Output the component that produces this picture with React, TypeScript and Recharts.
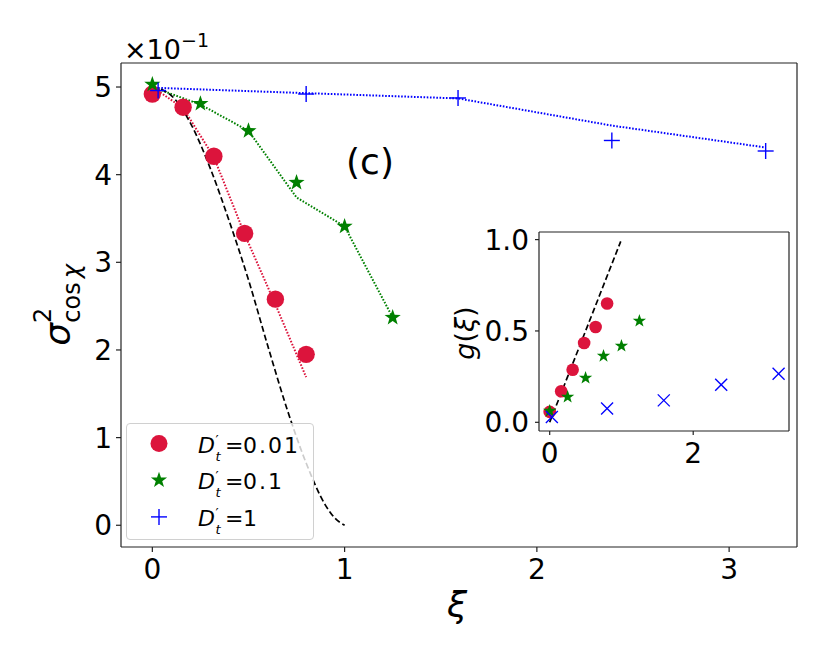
import React from 'react';
import { ComposedChart, Scatter, Line, XAxis, YAxis, CartesianGrid } from 'recharts';

document.body.style.margin = '0';

const RED = '#DC143C';
const GREEN = '#008000';
const BLUE = '#0000FF';
const FONT = 'DejaVu Sans';

// main panel: sigma^2 (x 10^-1) vs xi
const redX = [0, 0.16, 0.32, 0.48, 0.64, 0.8];
const redVar = [4.92, 4.77, 4.21, 3.33, 2.58, 1.95];
const redFit = [5.0, 4.76, 4.2, 3.32, 2.52, 1.69];

const greenX = [0, 0.25, 0.5, 0.75, 1.0, 1.25];
const greenVar = [5.03, 4.81, 4.5, 3.91, 3.41, 2.37];
const greenFit = [5.0, 4.8, 4.5, 3.74, 3.41, 2.37];

const blueX = [0.03, 0.8, 1.59, 2.39, 3.19];
const blueVar = [4.96, 4.92, 4.875, 4.39, 4.27];
const blueFit = [4.99, 4.93, 4.87, 4.56, 4.31];

const theoryX = [0, 0.1, 0.2, 0.3, 0.4, 0.5, 0.6, 0.7, 0.8, 0.9, 0.95, 1.0];
const theoryVar = [5.0, 4.9, 4.58, 4.08, 3.47, 2.8, 2.05, 1.33, 0.71, 0.23, 0.08, 0.0];

// inset: g(xi)
const redG = [0.057, 0.17, 0.288, 0.434, 0.522, 0.65];
const greenG = [0.062, 0.139, 0.243, 0.363, 0.418, 0.555];
const blueG = [0.029, 0.075, 0.12, 0.206, 0.266];
const gLineX = [0, 0.99];
const gLine = [0, 0.99];

const mainXTicks = [0, 1, 2, 3];
const mainYTicks = [0, 1, 2, 3, 4, 5];
const insetXTicks = [0, 2];
const insetYTicks = [0, 0.5, 1.0];

const legendLabels = ['0.01', '0.1', '1'];

const zip = (xs: number[], ys: number[]) => xs.map((x, i) => ({ x, y: ys[i] }));

const starPath = (cx: number, cy: number, R: number) => {
  const r = R * 0.4;
  let d = '';
  for (let i = 0; i < 10; i++) {
    const a = -Math.PI / 2 + (i * Math.PI) / 5;
    const rad = i % 2 === 0 ? R : r;
    d += (i === 0 ? 'M' : 'L') + (cx + rad * Math.cos(a)) + ',' + (cy + rad * Math.sin(a));
  }
  return d + 'Z';
};

const dotShape = (r: number) => (p: any) => <circle cx={p.cx} cy={p.cy} r={r} fill={RED} />;
const starShape = (R: number) => (p: any) => <path d={starPath(p.cx, p.cy, R)} fill={GREEN} />;
const plusShape = (s: number) => (p: any) => (
  <g stroke={BLUE} strokeWidth={1.4}>
    <line x1={p.cx - s} y1={p.cy} x2={p.cx + s} y2={p.cy} />
    <line x1={p.cx} y1={p.cy - s} x2={p.cx} y2={p.cy + s} />
  </g>
);
const crossShape = (s: number) => (p: any) => (
  <g stroke={BLUE} strokeWidth={1.4}>
    <line x1={p.cx - s} y1={p.cy - s} x2={p.cx + s} y2={p.cy + s} />
    <line x1={p.cx - s} y1={p.cy + s} x2={p.cx + s} y2={p.cy - s} />
  </g>
);

const tickStyle = { fill: '#000', fontSize: 28, fontFamily: FONT };
const axisStroke = { stroke: '#222', strokeWidth: 1.2 };

const Legend = () => (
  <div
    style={{
      position: 'absolute', left: 126, top: 423, width: 186, height: 115,
      border: '1px solid #d0d0d0', borderRadius: 4, background: 'rgba(255,255,255,0.8)',
    }}
  >
    <svg width={186} height={115} style={{ display: 'block' }}>
      {legendLabels.map((lab, i) => {
        const cy = 19.5 + i * 36.7;
        const base = cy + 9;
        return (
          <g key={lab}>
            {i === 0 && <circle cx={32} cy={cy} r={8.5} fill={RED} />}
            {i === 1 && <path d={starPath(32, cy, 8.5)} fill={GREEN} />}
            {i === 2 && (
              <g stroke={BLUE} strokeWidth={1.4}>
                <line x1={24} y1={cy} x2={40} y2={cy} />
                <line x1={32} y1={cy - 8} x2={32} y2={cy + 8} />
              </g>
            )}
            <text y={base} fontFamily={FONT} fontSize={22} fill="#000">
              <tspan x={71} fontStyle="italic">D</tspan>
              <tspan x={88.5} y={base - 8} fontSize={14}>′</tspan>
              <tspan x={88.5} y={base + 8} fontSize={13} fontStyle="italic">t</tspan>
              <tspan x={98} y={base}>=</tspan>
              <tspan x={116} letterSpacing={2}>{lab}</tspan>
            </text>
          </g>
        );
      })}
    </svg>
  </div>
);

const Annotations = () => (
  <svg width={830} height={664} style={{ position: 'absolute', left: 0, top: 0, pointerEvents: 'none' }}>
    <text x={124} y={59} fontFamily={FONT} fontSize={27} fill="#000">
      ×10<tspan fontSize={19} dy={-12}>−1</tspan>
    </text>
    <text x={370} y={174} textAnchor="middle" fontFamily={FONT} fontSize={36} fill="#000">(c)</text>
    <text x={457} y={617} textAnchor="middle" fontFamily={FONT} fontSize={36} fontStyle="italic" fill="#000">ξ</text>
    <text transform="translate(70,305) rotate(-90)" textAnchor="middle" fontFamily={FONT} fill="#000">
      <tspan fontSize={36} fontStyle="italic">σ</tspan>
      <tspan fontSize={24} dy={-19}>2</tspan>
      <tspan fontSize={24} dx={-15} dy={29}>cos</tspan>
      <tspan fontSize={24} fontStyle="italic" dx={4}>χ</tspan>
    </text>
    <text transform="translate(474,333) rotate(-90)" textAnchor="middle" fontFamily={FONT} fontSize={27} fill="#000">
      <tspan fontStyle="italic">g</tspan>(<tspan fontStyle="italic">ξ</tspan>)
    </text>
  </svg>
);

const Inset = () => (
  <div style={{ position: 'absolute', left: 460, top: 220 }}>
    <ComposedChart width={340} height={260} margin={{ top: 11, right: 10, bottom: 19, left: 19 }}>
      <CartesianGrid fill="#fff" horizontal={false} vertical={false} />
      <XAxis
        dataKey="x" type="number" domain={[-0.149, 3.335]} allowDataOverflow ticks={insetXTicks} interval={0}
        height={30} tick={tickStyle} tickSize={4} tickMargin={8} axisLine={axisStroke} tickLine={axisStroke}
      />
      <YAxis
        dataKey="y" type="number" domain={[-0.0476, 1.0416]} allowDataOverflow ticks={insetYTicks} interval={0}
        width={60} tick={tickStyle} tickSize={4} tickMargin={6} axisLine={axisStroke} tickLine={axisStroke}
        tickFormatter={(v: number) => v.toFixed(1)}
      />
      <XAxis xAxisId="top" orientation="top" type="number" domain={[0, 1]} height={1} tick={false} tickLine={false} axisLine={axisStroke} />
      <YAxis yAxisId="right" orientation="right" type="number" domain={[0, 1]} width={1} tick={false} tickLine={false} axisLine={axisStroke} />
      <Scatter data={zip(redX, redG)} shape={dotShape(6.3)} isAnimationActive={false} />
      <Scatter data={zip(greenX, greenG)} shape={starShape(7)} isAnimationActive={false} />
      <Scatter data={zip(blueX, blueG)} shape={crossShape(6)} isAnimationActive={false} />
      <Line data={zip(gLineX, gLine)} dataKey="y" stroke="#000" strokeWidth={1.7} strokeDasharray="6 3" dot={false} isAnimationActive={false} />
    </ComposedChart>
  </div>
);

export default function App() {
  return (
    <div style={{ position: 'relative', width: 830, height: 664, background: '#fff' }}>
      <ComposedChart width={830} height={664} margin={{ top: 62, right: 32, bottom: 87, left: 61 }}>
        <XAxis
          dataKey="x" type="number" domain={[-0.163, 3.353]} allowDataOverflow ticks={mainXTicks} interval={0}
          height={30} tick={tickStyle} tickSize={5} tickMargin={7} axisLine={axisStroke} tickLine={axisStroke}
        />
        <YAxis
          dataKey="y" type="number" domain={[-0.248, 5.274]} allowDataOverflow ticks={mainYTicks} interval={0}
          width={60} tick={tickStyle} tickSize={5} tickMargin={4} axisLine={axisStroke} tickLine={axisStroke}
        />
        <XAxis xAxisId="top" orientation="top" type="number" domain={[0, 1]} height={1} tick={false} tickLine={false} axisLine={axisStroke} />
        <YAxis yAxisId="right" orientation="right" type="number" domain={[0, 1]} width={1} tick={false} tickLine={false} axisLine={axisStroke} />
        <Scatter data={zip(redX, redVar)} shape={dotShape(8.7)} isAnimationActive={false} />
        <Scatter data={zip(greenX, greenVar)} shape={starShape(8.5)} isAnimationActive={false} />
        <Scatter data={zip(blueX, blueVar)} shape={plusShape(8)} isAnimationActive={false} />
        <Line data={zip(redX, redFit)} dataKey="y" stroke={RED} strokeWidth={2} strokeDasharray="1.6 1.6" dot={false} isAnimationActive={false} />
        <Line data={zip(greenX, greenFit)} dataKey="y" stroke={GREEN} strokeWidth={2} strokeDasharray="1.6 1.6" dot={false} isAnimationActive={false} />
        <Line data={zip(blueX, blueFit)} dataKey="y" stroke={BLUE} strokeWidth={2} strokeDasharray="1.6 1.6" dot={false} isAnimationActive={false} />
        <Line data={zip(theoryX, theoryVar)} dataKey="y" type="monotone" stroke="#000" strokeWidth={1.7} strokeDasharray="6 3" dot={false} isAnimationActive={false} />
      </ComposedChart>
      <Legend />
      <Inset />
      <Annotations />
    </div>
  );
}
